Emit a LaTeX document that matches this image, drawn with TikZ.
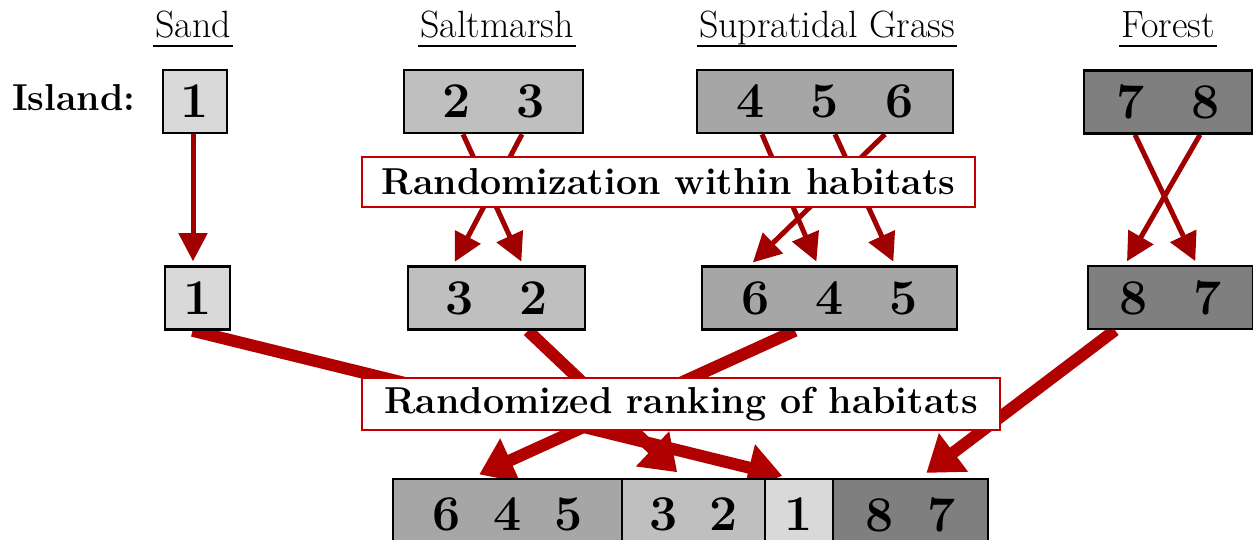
\documentclass[tikz,border=0pt]{standalone}
\usetikzlibrary{arrows.meta,calc}
\definecolor{gA}{HTML}{D9D9D9}
\definecolor{gB}{HTML}{BFBFBF}
\definecolor{gC}{HTML}{A6A6A6}
\definecolor{gD}{HTML}{7F7F7F}
\definecolor{thinred}{HTML}{A00000}
\definecolor{thickred}{HTML}{B00000}
\definecolor{labred}{HTML}{C00000}
\pgfdeclarelayer{bg}
\pgfsetlayers{bg,main}
\begin{document}
\begin{tikzpicture}[x=1pt,y=-1pt,
 hbox/.style={draw=black,line width=2.5pt,inner sep=0pt,minimum height=63pt,font=\fontsize{50}{50}\selectfont\bfseries},
 ttl/.style={font=\fontsize{38}{38}\selectfont,inner xsep=2pt,inner ysep=0pt,anchor=base},
 uline/.style={line width=2.5pt},
 lab/.style={draw=labred,fill=white,line width=2pt,inner sep=0pt,font=\fontsize{37.5}{37.5}\selectfont\bfseries},
 thinarr/.style={draw=thinred,line width=5pt,shorten >=4pt,-{Triangle[length=28pt,width=28pt]}},
 thickarr/.style={draw=thickred,line width=12pt,shorten >=8pt,-{Triangle[length=34pt,width=46pt]}},
]
\useasboundingbox (0,0) rectangle (1253,540);

% titles
\node[ttl] (tsand) at (193,38) {Sand};
\node[ttl] (tsalt) at (497,38) {Saltmarsh};
\node[ttl] (tsup) at (827,38) {Supratidal Grass};
\node[ttl] (tfor) at (1168,38) {Forest};
\foreach \t in {tsand,tsalt,tsup,tfor}
  \draw[uline] ([yshift=-8pt]\t.base west) -- ([yshift=-8pt]\t.base east);

\node[font=\fontsize{37.5}{37.5}\selectfont\bfseries,anchor=base west,inner sep=0pt] (isl) at (12,111) {Island:};

% row 1
\node[hbox,fill=gA,minimum width=64pt] (b1) at (195,101.5) {1\hspace{14pt}};
\node[hbox,fill=gB,minimum width=179pt] (b23) at (493.5,101.5) {2\hspace{46pt}3};
\node[hbox,fill=gC,minimum width=256pt] (b456) at (825,101.5) {4\hspace{46pt}5\hspace{46pt}6};
\node[hbox,fill=gD,minimum width=168pt] (b78) at (1168,102) {7\hspace{46pt}8};

% row 2
\node[hbox,fill=gA,minimum width=65pt] (r1) at (197.5,298) {1\hspace{19pt}};
\node[hbox,fill=gB,minimum width=177pt] (r32) at (496.5,298) {3\hspace{46pt}2};
\node[hbox,fill=gC,minimum width=255pt] (r645) at (829.5,298) {6\hspace{46pt}4\hspace{46pt}5\hspace{25pt}};
\node[hbox,fill=gD,minimum width=165pt] (r87) at (1170.5,297.5) {8\hspace{46pt}7};

% bottom row
\node[hbox,fill=gC,minimum width=229pt,minimum height=71pt] (c645) at (507.5,514.5) {6\hspace{33pt}4\hspace{33pt}5};
\node[hbox,fill=gB,minimum width=143pt,minimum height=71pt] (c32) at (693.5,514.5) {3\hspace{32pt}2};
\node[hbox,fill=gA,minimum width=68pt,minimum height=71pt] (c1) at (799,514.5) {1};
\node[hbox,fill=gD,minimum width=155pt,minimum height=71pt] (c87) at (910.5,514.5) {8\hspace{34pt}7};

% labels
\node[lab,minimum width=613pt,minimum height=50pt] (l1) at (668.5,182) {Randomization within habitats};
\node[lab,minimum width=638pt,minimum height=52pt] (l2) at (681,404) {Randomized ranking of habitats};

\begin{pgfonlayer}{bg}
% thin arrows
\draw[thinarr] ([xshift=-2pt]b1.south) -- ([xshift=-4.5pt]r1.north);
\draw[thinarr] ([xshift=-30.5pt]b23.south) -- ([xshift=26.5pt]r32.north);
\draw[thinarr] ([xshift=28.5pt]b23.south) -- ([xshift=-43.5pt]r32.north);
\draw[thinarr] ([xshift=-63pt]b456.south) -- ([xshift=-11.5pt]r645.north);
\draw[thinarr] ([xshift=10pt]b456.south) -- ([xshift=65.5pt]r645.north);
\draw[thinarr] ([xshift=60pt]b456.south) -- ([xshift=-79.5pt]r645.north);
\draw[thinarr] ([xshift=-33pt]b78.south) -- ([xshift=26.5pt]r87.north);
\draw[thinarr] ([xshift=32pt]b78.south) -- ([xshift=-45.5pt]r87.north);
% thick arrows
\draw[thickarr] ([xshift=-5pt]r1.south) -- ([xshift=-9pt]c1.north);
\draw[thickarr] ([xshift=31.5pt]r32.south) -- ([xshift=-10.5pt]c32.north);
\draw[thickarr] ([xshift=-34.5pt]r645.south) -- ([xshift=-35.5pt]c645.north);
\draw[thickarr] ([xshift=-55.5pt]r87.south) -- ([xshift=9.5pt]c87.north);
\end{pgfonlayer}
\end{tikzpicture}
\end{document}
